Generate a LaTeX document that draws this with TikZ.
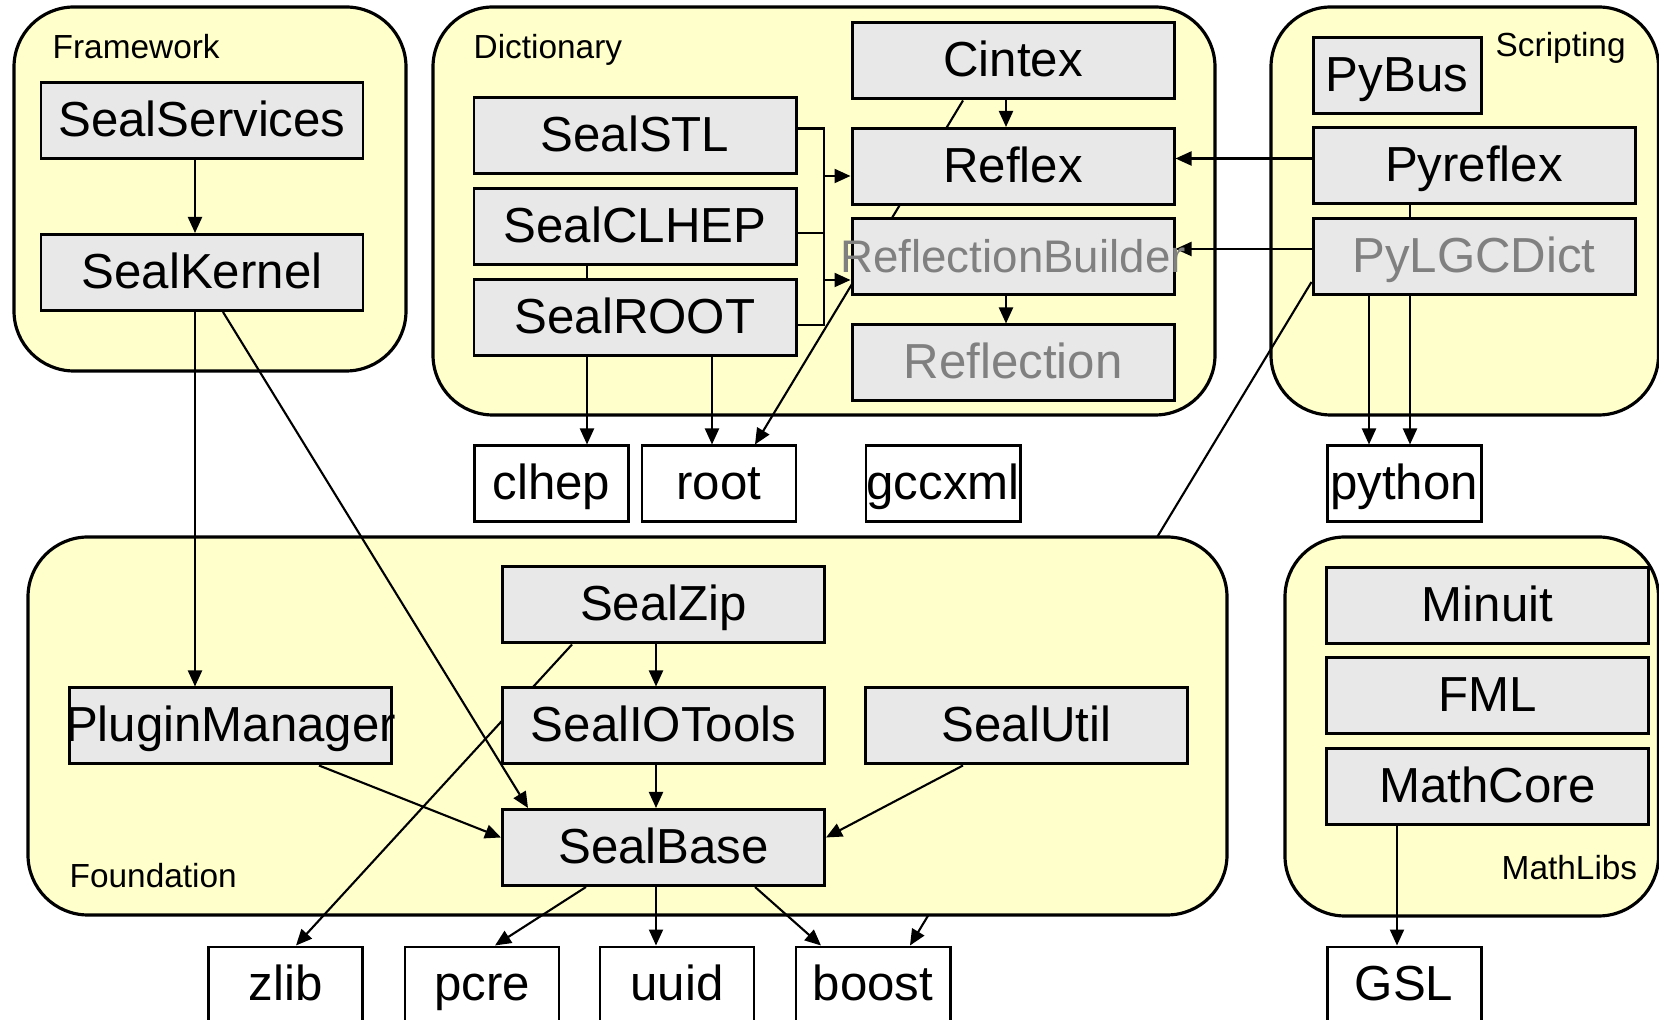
\documentclass[tikz,border=0pt]{standalone}
\usepackage{fontspec}
\setmainfont{Liberation Sans}
\usetikzlibrary{arrows.meta}
\pgfdeclarelayer{back}
\pgfdeclarelayer{deep}
\pgfdeclarelayer{found}
\pgfdeclarelayer{wire}
\pgfsetlayers{back,deep,found,wire,main}
\definecolor{panelyellow}{HTML}{FFFFCC}
\definecolor{modgray}{HTML}{E8E8E8}
\definecolor{dimtext}{HTML}{808080}
\newcommand{\spill}[1]{\makebox[0pt]{#1}}
\tikzset{
    panel/.style={draw=black, line width=0.9pt, fill=panelyellow, rounded corners=0.6cm},
    grouplabel/.style={anchor=west, inner sep=0pt, font=\fontsize{9.5}{11}\selectfont},
    pkg/.style={draw=black, line width=0.85pt, fill=modgray, minimum width=3.22cm,
        minimum height=0.76cm, inner sep=0pt, text height=12pt, text depth=3pt,
        font=\fontsize{14}{16}\selectfont},
    ext/.style={pkg, fill=white, minimum width=1.54cm},
    dim/.style={text=dimtext},
    dep/.style={-{Triangle[length=1.6mm,width=1.4mm]}, line width=0.6pt},
    wire/.style={line width=0.6pt}
}

\begin{document}
\begin{tikzpicture}[x=1cm, y=-1cm]
                        \useasboundingbox (0, 0) rectangle (16.59, 10.20);

                        % Framework
                        \node[pkg] (sealservices) at (2.02, 1.21) {SealServices};
                        \node[pkg] (sealkernel) at (2.02, 2.725) {SealKernel};

                        % Dictionary
                        \node[pkg] (sealstl) at (6.35, 1.36) {SealSTL};
                        \node[pkg] (sealclhep) at (6.35, 2.27) {SealCLHEP};
                        \node[pkg] (sealroot) at (6.35, 3.18) {SealROOT};
                        \node[pkg] (cintex) at (10.13, 0.61) {Cintex};
                        \node[pkg] (reflex) at (10.13, 1.665) {Reflex};
                        \node[pkg, dim, font=\fontsize{13}{15}\selectfont] (reflectionbuilder) at (10.13, 2.57) {\spill{ReflectionBuilder}};
                        \node[pkg, dim] (reflection) at (10.13, 3.63) {Reflection};

                        % Scripting
                        \node[pkg, minimum width=1.68cm] (pybus) at (13.97, 0.755) {PyBus};
                        \node[pkg] (pyreflex) at (14.74, 1.66) {Pyreflex};
                        \node[pkg, dim] (pylgcdict) at (14.74, 2.57) {PyLGCDict};

                        % externals, top row
                        \node[ext] (clhep) at (5.515, 4.84) {clhep};
                        \node[ext] (root) at (7.19, 4.84) {root};
                        \node[ext] (gccxml) at (9.43, 4.84) {\spill{gccxml}};
                        \node[ext] (python) at (14.04, 4.84) {\spill{python}};

                        % Foundation
                        \node[pkg] (sealzip) at (6.635, 6.05) {SealZip};
                        \node[pkg] (pluginmanager) at (2.305, 7.26) {\spill{PluginManager}};
                        \node[pkg] (sealiotools) at (6.635, 7.26) {SealIOTools};
                        \node[pkg] (sealutil) at (10.265, 7.26) {SealUtil};
                        \node[pkg] (sealbase) at (6.635, 8.475) {SealBase};

                        % MathLibs
                        \node[pkg] (minuit) at (14.875, 6.055) {Minuit};
                        \node[pkg] (fml) at (14.875, 6.955) {FML};
                        \node[pkg] (mathcore) at (14.875, 7.87) {MathCore};

                        % externals, bottom row
                        \node[ext] (zlib) at (2.855, 9.85) {zlib};
                        \node[ext] (pcre) at (4.82, 9.85) {pcre};
                        \node[ext] (uuid) at (6.77, 9.85) {uuid};
                        \node[ext] (boost) at (8.73, 9.85) {boost};
                        \node[ext] (gsl) at (14.04, 9.85) {GSL};

                        \begin{pgfonlayer}{back}
                        \draw[panel] (0.14, 0.07) rectangle (4.06, 3.71);
                        \draw[panel] (4.33, 0.07) rectangle (12.15, 4.15);
                        \draw[panel] (12.71, 0.07) rectangle (16.585, 4.15);
                        \draw[panel] (12.85, 5.37) rectangle (16.585, 9.16);
                        \end{pgfonlayer}

                        \begin{pgfonlayer}{deep}
                        \draw[dep] ([yshift=-0.25cm]pylgcdict.west) -- ([xshift=0.37cm]boost.north);
                        \end{pgfonlayer}

                        \begin{pgfonlayer}{found}
                        \draw[panel] (0.28, 5.37) rectangle (12.27, 9.15);
                        \end{pgfonlayer}

                        \node[grouplabel] (lframework) at (0.52, 0.47) {Framework};
                        \node[grouplabel] (ldictionary) at (4.73, 0.50) {Dictionary};
                        \node[grouplabel] (lscripting) at (14.95, 0.48) {Scripting};
                        \node[grouplabel] (lfoundation) at (0.69, 8.76) {Foundation};
                        \node[grouplabel] (lmathlibs) at (15.01, 8.68) {MathLibs};

                        \begin{pgfonlayer}{wire}
                        % Framework
                        \draw[dep] ([xshift=-0.07cm]sealservices.south) -- ([xshift=-0.07cm]sealkernel.north);
                        \draw[dep] ([xshift=-0.07cm]sealkernel.south) -- ([xshift=-0.07cm]sealkernel.south |- pluginmanager.north);
                        \draw[dep] ([xshift=0.21cm]sealkernel.south) -- ([xshift=-1.355cm]sealbase.north);

                        % Dictionary
                        \coordinate (bus) at (8.24, 0);
                        \draw[wire] ([yshift=0.075cm]sealstl.east) -| ([yshift=-0.07cm]sealroot.east -| bus)
                            -- ([yshift=-0.07cm]sealroot.east);
                        \draw[wire] ([yshift=-0.06cm]sealclhep.east) -- ([yshift=-0.06cm]sealclhep.east -| bus);
                        \draw[dep] ([yshift=-0.095cm]reflex.west -| bus) -- ([yshift=-0.095cm]reflex.west);
                        \draw[dep] ([yshift=-0.23cm]reflectionbuilder.west -| bus) -- ([yshift=-0.23cm]reflectionbuilder.west);
                        \draw[dep] ([xshift=-0.07cm]cintex.south) -- ([xshift=-0.07cm]reflex.north);
                        \draw[dep] ([xshift=-0.07cm]reflectionbuilder.south) -- ([xshift=-0.07cm]reflection.north);
                        \draw[dep] ([xshift=-0.5cm]cintex.south) -- ([xshift=0.36cm]root.north);
                        \draw[dep] ([xshift=-0.48cm]sealclhep.south) -- ([xshift=-0.48cm]sealclhep.south |- clhep.north);
                        \draw[dep] ([xshift=0.77cm]sealroot.south) -- ([xshift=0.77cm]sealroot.south |- root.north);

                        % Scripting
                        \draw[dep] ([yshift=0.075cm]pyreflex.west) -- ([yshift=0.075cm]pyreflex.west -| reflex.east);
                        \draw[dep] ([yshift=0.08cm]pylgcdict.west) -- ([yshift=0.08cm]pylgcdict.west -| reflectionbuilder.east);
                        \draw[dep] ([xshift=-0.64cm]pyreflex.south) -- ([xshift=-0.64cm]pyreflex.south |- python.north);
                        \draw[dep] ([xshift=-1.05cm]pylgcdict.south) -- ([xshift=-1.05cm]pylgcdict.south |- python.north);

                        % Foundation
                        \draw[dep] ([xshift=-0.075cm]sealzip.south) -- ([xshift=-0.075cm]sealiotools.north);
                        \draw[dep] ([xshift=-0.075cm]sealiotools.south) -- ([xshift=-0.075cm]sealbase.north);
                        \draw[dep] ([xshift=0.885cm]pluginmanager.south) -- ([yshift=0.1cm]sealbase.west);
                        \draw[dep] ([xshift=-0.635cm]sealutil.south) -- ([yshift=0.1cm]sealbase.east);
                        \draw[dep] ([xshift=-0.915cm]sealzip.south) -- ([xshift=0.105cm]zlib.north);
                        \draw[dep] ([xshift=-0.775cm]sealbase.south) -- ([xshift=0.13cm]pcre.north);
                        \draw[dep] ([xshift=-0.075cm]sealbase.south) -- ([xshift=-0.075cm]sealbase.south |- uuid.north);
                        \draw[dep] ([xshift=0.915cm]sealbase.south) -- ([xshift=-0.52cm]boost.north);

                        % MathLibs
                        \draw[dep] ([xshift=-0.905cm]mathcore.south) -- ([xshift=-0.905cm]mathcore.south |- gsl.north);
                        \end{pgfonlayer}
                    \end{tikzpicture}
\end{document}
